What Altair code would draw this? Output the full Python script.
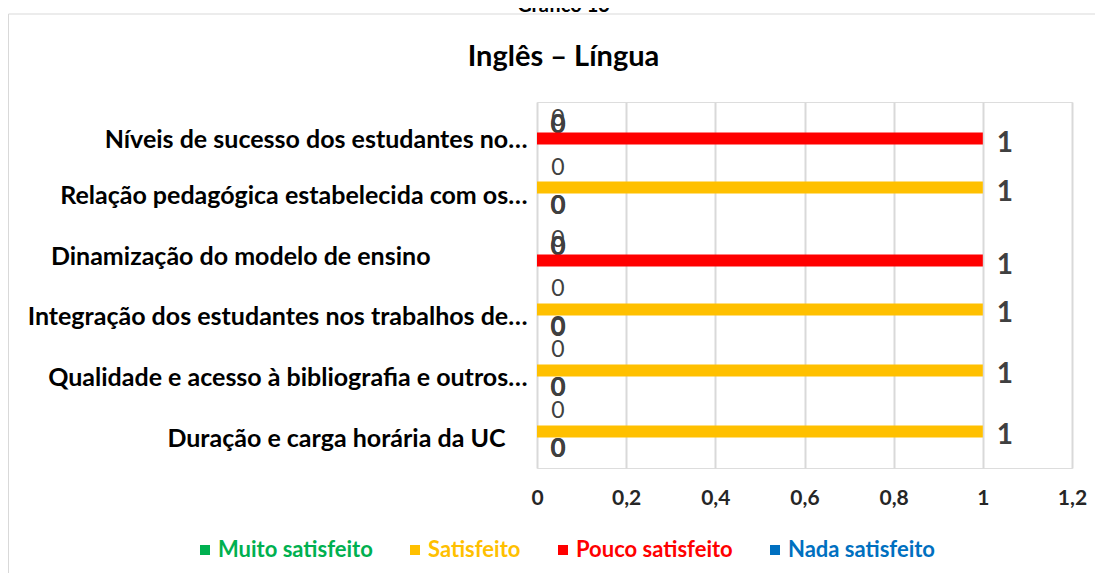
import altair as alt
import pandas as pd

categories = [
    "Níveis de sucesso dos estudantes no…",
    "Relação pedagógica estabelecida com os…",
    "Dinamização do modelo de ensino",
    "Integração dos estudantes nos trabalhos de…",
    "Qualidade e acesso à bibliografia e outros…",
    "Duração e carga horária da UC",
]
series_names = ["Muito satisfeito", "Satisfeito", "Pouco satisfeito", "Nada satisfeito"]
muito = [0, 0, 0, 0, 0, 0]
satisfeito = [0, 1, 0, 1, 1, 1]
pouco = [1, 0, 1, 0, 0, 0]
nada = [0, 0, 0, 0, 0, 0]
colors = ["#00B050", "#FFC000", "#FF0000", "#0070C0"]
x_ticks = [0, 0.2, 0.4, 0.6, 0.8, 1.0, 1.2]

rows = []
for i, cat in enumerate(categories):
    vals = [muito[i], satisfeito[i], pouco[i], nada[i]]
    lead = series_names[vals.index(max(vals))]
    for s, v in zip(series_names, vals):
        rows.append({"cat": cat, "series": s, "value": v, "lead": lead})
df = pd.DataFrame(rows)

FONT = "Lato"
W, H = 535, 366

y_enc = alt.Y(
    "cat:N", sort=categories, title=None,
    scale=alt.Scale(paddingInner=0.213, paddingOuter=0.1066),
    axis=alt.Axis(
        domain=False, ticks=False, labelFont=FONT, labelFontSize=25,
        labelFontWeight="bold", labelColor="#000000", labelLimit=800,
        labelPadding={"condition": [
            {"test": f"datum.value == '{categories[2]}'", "value": 107},
            {"test": f"datum.value == '{categories[5]}'", "value": 32},
        ], "value": 10},
        labelOffset={"condition": {"test": f"datum.value == '{categories[0]}'", "value": 7},
                     "value": 2},
    ),
)
yoff = alt.YOffset("series:N", sort=series_names)
x_enc = alt.X(
    "value:Q", title=None,
    scale=alt.Scale(domain=[0, 1.2], nice=False),
    axis=alt.Axis(values=x_ticks, labelExpr="replace(format(datum.value, '.1~f'), '.', ',')",
                  domain=False, ticks=False, grid=True, gridColor="#d9d9d9", gridWidth=2,
                  labelFont=FONT, labelFontSize=21, labelFontWeight="bold",
                  labelColor="#262626", labelPadding=19, labelFlush=False),
)
color_enc = alt.Color(
    "series:N", sort=series_names,
    scale=alt.Scale(domain=series_names, range=colors),
    legend=alt.Legend(title=None, orient="none", legendX=-343, legendY=437,
                      direction="horizontal", symbolType="square", symbolSize=100,
                      symbolStrokeWidth=0, labelFont=FONT, labelFontSize=22,
                      labelFontWeight="bold", labelColor={"expr": "scale('color', datum.value)"},
                      columnPadding=31, labelOffset=2, padding=0),
)

frame = alt.Chart(pd.DataFrame({"k": [0]})).mark_rect(
    fillOpacity=0, stroke="#d9d9d9", strokeWidth=1
).encode(
    x=alt.value(-528.5), x2=alt.value(W + 40), y=alt.value(-88), y2=alt.value(H + 120)
)

DY = ("datum.lead == 'Pouco satisfeito' ? "
      "(datum.series == 'Muito satisfeito' ? 4 : datum.series == 'Satisfeito' ? -2 : -26) : "
      "(datum.series == 'Muito satisfeito' ? -8 : datum.series == 'Pouco satisfeito' ? 6 : -6)")

zero_reg = alt.Chart(df).transform_filter(
    "datum.value == 0 && datum.series == 'Muito satisfeito'"
).mark_text(font=FONT, fontSize=23, color="#404040", align="center", baseline="middle",
            dx=21, dy={"expr": DY}).encode(
    x=x_enc, y=y_enc, yOffset=yoff, text=alt.Text("value:Q", format="d")
)
zero_bold = alt.Chart(df).transform_filter(
    "datum.value == 0 && datum.series != 'Muito satisfeito'"
).mark_text(font=FONT, fontSize=26, fontWeight="bold", color="#404040", align="center",
            baseline="middle", dx=21, dy={"expr": DY}).encode(
    x=x_enc, y=y_enc, yOffset=yoff, text=alt.Text("value:Q", format="d")
)

bars = alt.Chart(df).mark_bar().encode(
    x=x_enc, y=y_enc, yOffset=yoff, color=color_enc
)

ones = alt.Chart(df).transform_filter("datum.value > 0").mark_text(
    font=FONT, fontSize=28, fontWeight="bold", color="#404040", align="left",
    baseline="middle", dx=14, dy=5
).encode(x=x_enc, y=y_enc, yOffset=yoff, text=alt.Text("value:Q", format="d"))

chart = alt.layer(frame, zero_reg, zero_bold, bars, ones).properties(
    width=W, height=H,
    autosize=alt.AutoSizeParams(type="none"),
    padding={"left": 529, "top": 94, "right": 23, "bottom": 105},
    title=alt.TitleParams(
        text="Gráfico 13", subtitle="Inglês – Língua", anchor="middle", frame="group",
        dx=-241, offset=-58, font=FONT, fontSize=20, fontWeight="bold", color="#000000",
        subtitleFont=FONT, subtitleFontSize=29, subtitleFontWeight="bold",
        subtitleColor="#000000", subtitlePadding=27,
    ),
).configure_view(stroke=None).configure(background="white")

chart.save("out.html", embed_options={"renderer": "svg", "actions": False})
